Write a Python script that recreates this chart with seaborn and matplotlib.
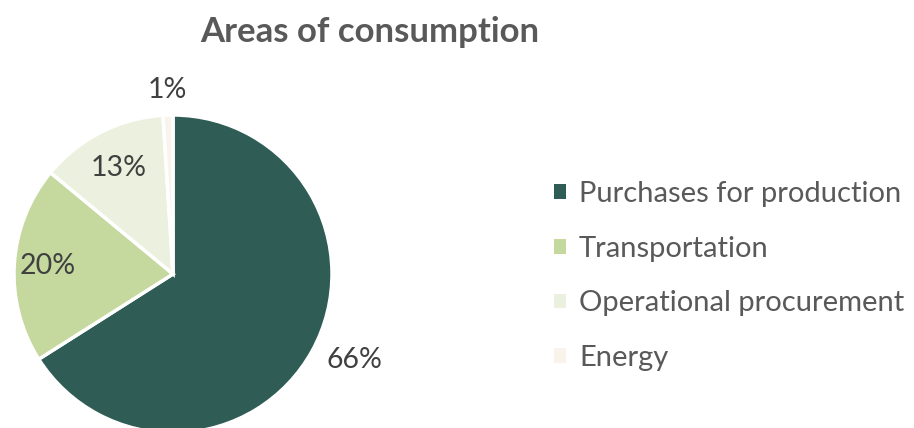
import matplotlib
matplotlib.use("Agg")
import matplotlib.pyplot as plt
import seaborn as sns
import numpy as np

categories = ["Purchases for production", "Transportation", "Operational procurement", "Energy"]
values = [66, 20, 13, 1]
labels = ["66%", "20%", "13%", "1%"]
colors = ["#2F5C55", "#C5D89D", "#EBF1DE", "#F8F4EC"]
label_dist = [1.265, 0.79, 0.75, 1.16]
label_ang_off = [3.5, 0.0, 0.0, 0.0]

sns.set_theme(style="white")
plt.rcParams["font.family"] = ["Lato", "DejaVu Sans"]

fig = plt.figure(figsize=(9.14, 4.28), dpi=100)
ax = fig.add_axes([0, 0, 1, 1])

cx, cy, r = 173, 428 - 274, 159
wedges, _ = ax.pie(values, colors=colors, startangle=90, counterclock=False,
                   center=(cx, cy), radius=r,
                   wedgeprops=dict(edgecolor="white", linewidth=2.5))
ax.set_xlim(0, 914)
ax.set_ylim(0, 428)
ax.set_aspect("equal")
ax.axis("off")

for w, lab, d, off in zip(wedges, labels, label_dist, label_ang_off):
    ang = np.deg2rad((w.theta1 + w.theta2) / 2 + off)
    ax.text(cx + d * r * np.cos(ang), cy + d * r * np.sin(ang), lab,
            ha="center", va="center", fontsize=20.5, color="#404040")

fig.text(370 / 914, 1 - 42 / 428, "Areas of consumption", ha="center", va="baseline",
         fontsize=25, fontweight="bold", color="#595959")

leg = fig.legend(wedges, categories, loc="center left",
                 bbox_to_anchor=(554 / 914, 1 - 276 / 428), frameon=False,
                 borderaxespad=0, borderpad=0,
                 fontsize=21, labelcolor="#595959", handlelength=0.41, handleheight=0.41,
                 handletextpad=0.45, labelspacing=0.99)
for h in leg.legend_handles:
    h.set_edgecolor("none")

fig.savefig("out.png", dpi=100)
